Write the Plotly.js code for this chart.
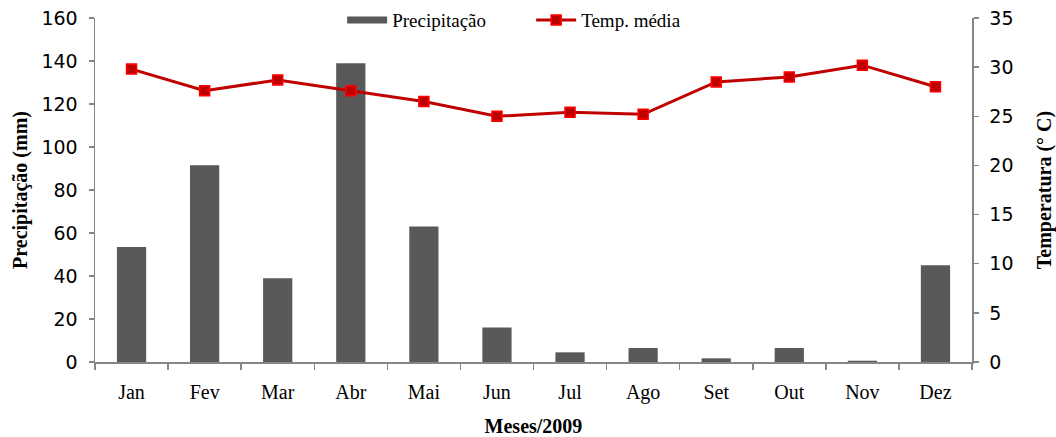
<!DOCTYPE html>
<html>
<head>
<meta charset="utf-8">
<script src="https://cdn.plot.ly/plotly-3.0.1.min.js"></script>
<style>html,body{margin:0;padding:0;background:#fff;}#chart{width:1056px;height:437px;}</style>
</head>
<body>
<div id="chart"></div>
<script>
const months = ["Jan","Fev","Mar","Abr","Mai","Jun","Jul","Ago","Set","Out","Nov","Dez"];
const precipitacao = [53.5, 91.5, 39, 139, 63, 16, 4.5, 6.5, 1.7, 6.5, 0.6, 45];
const tempMedia = [29.8, 27.6, 28.7, 27.6, 26.5, 25.0, 25.4, 25.2, 28.5, 29.0, 30.2, 28.0];

const axisColor = "#868686";
const barColor = "#595959";
const traces = [
  {
    type: "bar", name: "Precipitação", x: months, y: precipitacao,
    marker: {color: barColor, line: {color: barColor, width: 0}},
    yaxis: "y", showlegend: false
  },
  {
    // legend-only entry giving the wide bar swatch
    type: "scatter", mode: "lines", name: "Precipitação", x: [null], y: [null],
    line: {color: barColor, width: 7}, yaxis: "y", showlegend: true
  },
  {
    type: "scatter", mode: "lines+markers", name: "Temp. média", x: months, y: tempMedia,
    line: {color: "#C00000", width: 3},
    marker: {symbol: "square", size: 10, color: "#C00000", line: {color: "#FF0000", width: 1.5}},
    yaxis: "y2"
  }
];

const layout = {
  width: 1056, height: 437,
  margin: {l: 95, r: 84, t: 18, b: 75, autoexpand: false},
  paper_bgcolor: "#fff", plot_bgcolor: "#fff",
  bargap: 0.6,
  showlegend: true,
  legend: {orientation: "h", xref: "container", yref: "container",
    x: 0.324, y: 0.954, xanchor: "left", yanchor: "middle",
    font: {family: "Liberation Serif", size: 19, color: "#000"}, traceorder: "normal",
    itemwidth: 40, entrywidth: 134, entrywidthmode: "pixels", bgcolor: "rgba(0,0,0,0)"},
  xaxis: {
    type: "category", automargin: true, range: [-0.5, 11.5],
    showline: true, linecolor: axisColor, linewidth: 1.5,
    ticks: "outside", tickson: "boundaries", ticklen: 6, tickcolor: axisColor, tickwidth: 1.5,
    tickfont: {family: "Liberation Serif", size: 20, color: "#000"}, ticklabelstandoff: 11,
    showgrid: false, zeroline: false,
    title: {text: "<b>Meses/2009</b>", font: {family: "Liberation Serif", size: 20, color: "#000"}, standoff: 18}
  },
  yaxis: {
    range: [0, 160], dtick: 20, automargin: false,
    showline: true, linecolor: axisColor, linewidth: 1.5,
    ticks: "outside", ticklen: 5, tickcolor: axisColor, tickwidth: 1.5,
    tickfont: {family: "DejaVu Sans", size: 19, color: "#000"}, ticklabelstandoff: 7,
    showgrid: false, zeroline: false,
    title: {text: "<b>Precipitação (mm)</b>", font: {family: "Liberation Serif", size: 20, color: "#000"}, standoff: 8}
  },
  yaxis2: {
    range: [0, 35], dtick: 5, overlaying: "y", side: "right", automargin: false,
    showline: true, linecolor: axisColor, linewidth: 1.5,
    ticks: "outside", ticklen: 5, tickcolor: axisColor, tickwidth: 1.5,
    tickfont: {family: "DejaVu Sans", size: 19, color: "#000"}, ticklabelstandoff: 7,
    showgrid: false, zeroline: false,
    title: {text: "<b>Temperatura (° C)</b>", font: {family: "Liberation Serif", size: 20, color: "#000"}, standoff: 24}
  }
};

Plotly.newPlot("chart", traces, layout, {displayModeBar: false, staticPlot: true});
</script>
</body>
</html>
